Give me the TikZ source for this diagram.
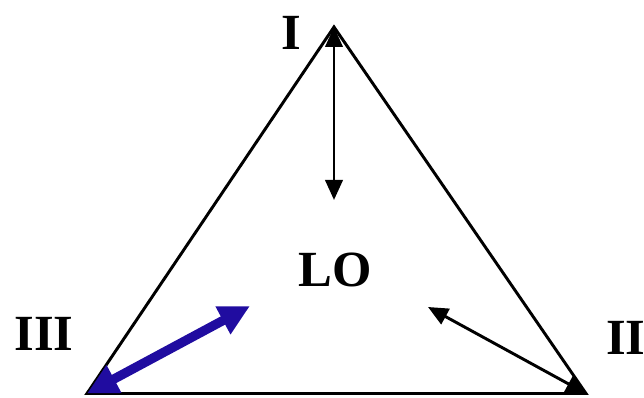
\documentclass[tikz,border=0pt]{standalone}
\usepackage{fontspec}
\setmainfont{Liberation Serif}
\usetikzlibrary{arrows.meta}
\definecolor{ink}{HTML}{000000}
\definecolor{violetblue}{HTML}{200CA0}

\begin{document}
\begin{tikzpicture}[x=0.75pt,y=-0.75pt,line join=miter,>=Triangle,
  corner/.style={font=\fontsize{38}{40}\selectfont\bfseries,text=ink},
  side/.style={line width=2.2pt,draw=ink},
  thinarrow/.style={line width=2.2pt,draw=ink,
    {Triangle[length=15pt,width=13pt]}-{Triangle[length=15pt,width=13pt]}},
  thickarrow/.style={line width=7pt,draw=violetblue,
    {Triangle[length=23pt,width=22pt]}-{Triangle[length=23pt,width=22pt]}}]
  \useasboundingbox (0,0) rectangle (644,398);

  % corners of the triangle
  \coordinate (top) at (334,27);
  \coordinate (left) at (87,393.5);
  \coordinate (right) at (586,393.5);
  \draw[side] (top) -- (right) -- (left) -- cycle;

  % labels
  \node[corner] (labI) at (291,33) {I};
  \node[corner] (labII) at (626,338) {II};
  \node[corner] (labIII) at (44,334) {III};
  \node[corner] (labLO) at (335,270) {LO};

  % arrows into the middle
  \coordinate (endI) at (334,200);
  \coordinate (endII) at (428,307);
  \coordinate (endIII) at (250,306);
  \draw[thinarrow] (top) -- (endI);
  \draw[thinarrow] (right) -- (endII);
  \draw[thickarrow] (left) -- (endIII);
\end{tikzpicture}
\end{document}
